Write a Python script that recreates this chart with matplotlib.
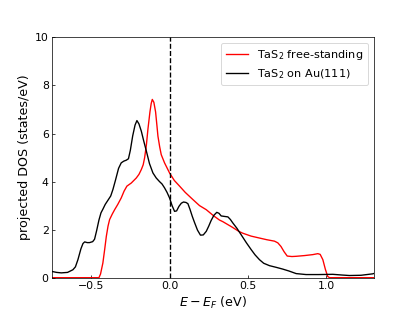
import matplotlib
matplotlib.use('Agg')
import matplotlib.pyplot as plt

# energies (eV) and DOS values
e_free = [-0.75, -0.45, -0.44, -0.425, -0.413, -0.403, -0.392, -0.382, -0.365, -0.35,
          -0.33, -0.308, -0.29, -0.272, -0.244, -0.212, -0.195, -0.18, -0.168, -0.159,
          -0.148, -0.138, -0.125, -0.117, -0.11, -0.1, -0.089, -0.08, -0.074, -0.063,
          -0.053, -0.032, 0.0, 0.03, 0.064, 0.1, 0.149, 0.191, 0.234, 0.28, 0.318,
          0.34, 0.4, 0.441, 0.467, 0.52, 0.573, 0.62, 0.669, 0.69, 0.71, 0.73, 0.75,
          0.78, 0.807, 0.86, 0.913, 0.945, 0.96, 0.977, 0.993, 1.008, 1.02, 1.3]
dos_free = [0.0, 0.0, 0.15, 0.61, 1.2, 1.72, 2.15, 2.42, 2.65, 2.83,
            3.05, 3.32, 3.6, 3.81, 3.94, 4.15, 4.3, 4.5, 4.7, 4.99,
            5.5, 6.17, 6.9, 7.25, 7.42, 7.3, 6.9, 6.3, 5.89, 5.45,
            5.12, 4.78, 4.36, 4.05, 3.81, 3.55, 3.25, 3.0, 2.83, 2.58, 2.4,
            2.33, 2.1, 1.93, 1.85, 1.73, 1.65, 1.58, 1.52, 1.45, 1.3, 1.08, 0.9,
            0.88, 0.89, 0.92, 0.96, 1.0, 0.97, 0.75, 0.35, 0.05, 0.0, 0.0]

e_au = [-0.75, -0.72, -0.69, -0.65, -0.616, -0.6, -0.584, -0.565, -0.552, -0.541,
        -0.525, -0.51, -0.49, -0.478, -0.465, -0.45, -0.437, -0.425, -0.41, -0.393,
        -0.375, -0.361, -0.345, -0.325, -0.308, -0.292, -0.276, -0.262, -0.25, -0.235,
        -0.22, -0.208, -0.195, -0.18, -0.165, -0.149, -0.128, -0.106, -0.085, -0.064,
        -0.048, -0.032, -0.016, 0.0, 0.016, 0.032, 0.045, 0.06, 0.075, 0.089, 0.105,
        0.117, 0.13, 0.145, 0.159, 0.178, 0.197, 0.215, 0.234, 0.25, 0.265, 0.283,
        0.301, 0.315, 0.329, 0.35, 0.372, 0.388, 0.403, 0.43, 0.456, 0.49, 0.52,
        0.545, 0.573, 0.6, 0.637, 0.68, 0.72, 0.76, 0.807, 0.87, 0.95, 1.04, 1.1,
        1.146, 1.22, 1.295, 1.3]
dos_au = [0.26, 0.22, 0.2, 0.22, 0.33, 0.45, 0.75, 1.2, 1.42, 1.49,
          1.46, 1.46, 1.5, 1.6, 1.95, 2.4, 2.7, 2.85, 3.05, 3.22,
          3.4, 3.67, 4.05, 4.55, 4.78, 4.85, 4.89, 4.95, 5.3, 5.9,
          6.35, 6.54, 6.4, 6.1, 5.7, 5.3, 4.75, 4.36, 4.15, 4.0,
          3.9, 3.74, 3.55, 3.32, 3.0, 2.76, 2.78, 2.97, 3.1, 3.15, 3.13,
          3.08, 2.85, 2.55, 2.3, 1.98, 1.77, 1.78, 1.93, 2.15, 2.38, 2.6,
          2.72, 2.68, 2.57, 2.55, 2.53, 2.42, 2.28, 2.05, 1.79, 1.45, 1.17,
          0.95, 0.75, 0.6, 0.5, 0.43, 0.36, 0.28, 0.17, 0.13, 0.13, 0.14, 0.11,
          0.09, 0.1, 0.16, 0.17]

fig = plt.figure(figsize=(6.385, 4.8), dpi=65)
ax = fig.add_subplot(111)
ax.plot(e_free, dos_free, color='red', lw=1.5, label='TaS$_2$ free-standing')
ax.plot(e_au, dos_au, color='black', lw=1.5, label='TaS$_2$ on Au(111)')
ax.axvline(0.0, color='black', ls='--', lw=1.5)
ax.set_xlim(-0.75, 1.3)
ax.set_ylim(0, 10)
ax.set_xticks([-0.5, 0.0, 0.5, 1.0])
ax.set_yticks([0, 2, 4, 6, 8, 10])
ax.tick_params(direction='in', labelsize=12)
ax.set_xlabel('$E-E_F$ (eV)', fontsize=14)
ax.set_ylabel('projected DOS (states/eV)', fontsize=14)
ax.legend(loc='upper right', fontsize=12.5)
fig.savefig('out.png', dpi=65)
